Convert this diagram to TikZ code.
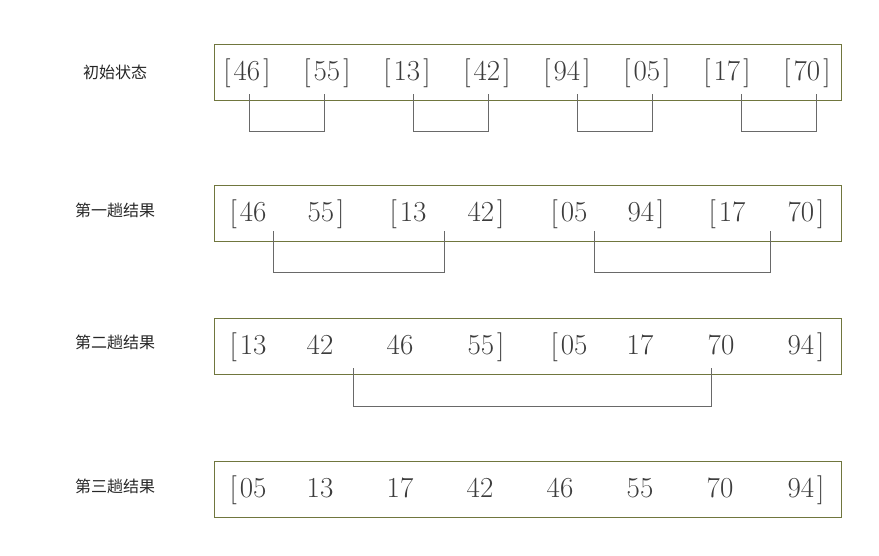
\documentclass[tikz,border=0pt]{standalone}
\usepackage{fontspec}
\newfontfamily\cjk{Noto Sans CJK SC}
\definecolor{boxcol}{RGB}{112,118,62}
\definecolor{numcol}{RGB}{60,60,60}
\definecolor{conncol}{RGB}{105,105,105}
\newcommand\lbk{[\kern3pt}
\newcommand\rbk{\kern3pt]}
\begin{document}
\begin{tikzpicture}[x=1pt,y=-1pt,
  rowbox/.style={draw=boxcol,line width=0.9pt,minimum width=627pt,minimum height=56pt,inner sep=0pt},
  num/.style={anchor=base,inner sep=0pt,text=numcol,font=\fontsize{29}{32}\selectfont},
  lab/.style={inner sep=0pt,text=black!85,font=\cjk\fontsize{16}{19}\selectfont},
  conn/.style={draw=conncol,line width=0.8pt}]
\useasboundingbox (0,0) rectangle (879,555);
% boxes
\node[rowbox] (b1) at (527.5,72) {};
\node[rowbox] (b2) at (527.5,213) {};
\node[rowbox] (b3) at (527.5,346) {};
\node[rowbox] (b4) at (527.5,489) {};
% labels
\node[lab] (l1) at (115,72) {初始状态};
\node[lab] (l2) at (115,210) {第一趟结果};
\node[lab] (l3) at (115,342) {第二趟结果};
\node[lab] (l4) at (115,486) {第三趟结果};
% row 1
\node[num] (r1a) at (247,80) {\lbk46\rbk};
\node[num] (r1b) at (327,80) {\lbk55\rbk};
\node[num] (r1c) at (407,80) {\lbk13\rbk};
\node[num] (r1d) at (487,80) {\lbk42\rbk};
\node[num] (r1e) at (567,80) {\lbk94\rbk};
\node[num] (r1f) at (647,80) {\lbk05\rbk};
\node[num] (r1g) at (727,80) {\lbk17\rbk};
\node[num] (r1h) at (807,80) {\lbk70\rbk};
% row 2
\node[num] (r2a) at (248,221) {\lbk46};
\node[num] (r2b) at (326,221) {55\rbk};
\node[num] (r2c) at (408,221) {\lbk13};
\node[num] (r2d) at (486,221) {42\rbk};
\node[num] (r2e) at (569,221) {\lbk05};
\node[num] (r2f) at (646,221) {94\rbk};
\node[num] (r2g) at (727,221) {\lbk17};
\node[num] (r2h) at (806,221) {70\rbk};
% row 3
\node[num] (r3a) at (248,354) {\lbk13};
\node[num] (r3b) at (320,354) {42};
\node[num] (r3c) at (400,354) {46};
\node[num] (r3d) at (486,354) {55\rbk};
\node[num] (r3e) at (569,354) {\lbk05};
\node[num] (r3f) at (640,354) {17};
\node[num] (r3g) at (721,354) {70};
\node[num] (r3h) at (806,354) {94\rbk};
% row 4
\node[num] (r4a) at (248,497) {\lbk05};
\node[num] (r4b) at (320,497) {13};
\node[num] (r4c) at (400,497) {17};
\node[num] (r4d) at (480,497) {42};
\node[num] (r4e) at (560,497) {46};
\node[num] (r4f) at (640,497) {55};
\node[num] (r4g) at (720,497) {70};
\node[num] (r4h) at (806,497) {94\rbk};
% connector end points
\coordinate (p1a) at (249,94);  \coordinate (p1b) at (324,94);
\coordinate (p1c) at (413,94);  \coordinate (p1d) at (488,94);
\coordinate (p1e) at (577,94);  \coordinate (p1f) at (652,94);
\coordinate (p1g) at (741,94);  \coordinate (p1h) at (816,94);
\coordinate (p2a) at (273,231); \coordinate (p2b) at (444,231);
\coordinate (p2c) at (594,231); \coordinate (p2d) at (770,231);
\coordinate (p3a) at (353,368); \coordinate (p3b) at (711,368);
% connectors
\draw[conn] (p1a) -- ++(0,37) -| (p1b);
\draw[conn] (p1c) -- ++(0,37) -| (p1d);
\draw[conn] (p1e) -- ++(0,37) -| (p1f);
\draw[conn] (p1g) -- ++(0,37) -| (p1h);
\draw[conn] (p2a) -- ++(0,41) -| (p2b);
\draw[conn] (p2c) -- ++(0,41) -| (p2d);
\draw[conn] (p3a) -- ++(0,38) -| (p3b);
\end{tikzpicture}
\end{document}
